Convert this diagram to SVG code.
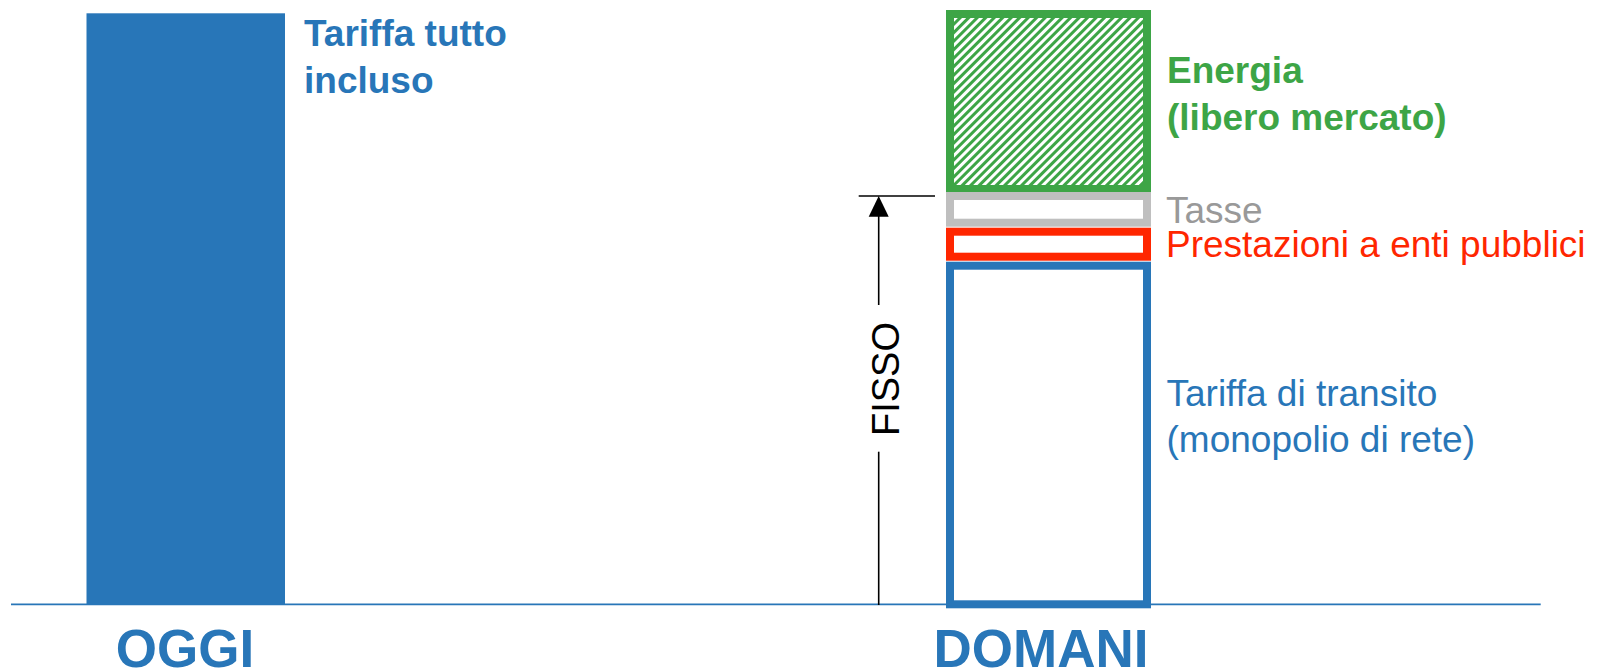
<svg xmlns="http://www.w3.org/2000/svg" width="1597" height="671" viewBox="0 0 1597 671">
  <style>
    text { font-family: "Liberation Sans", Arial, sans-serif; }
    .bold { font-weight: bold; }
    .blue { fill: #2876B8; }
    .green { fill: #3DA546; }
    .gray { fill: #999999; }
    .red { fill: #FF2600; }
    .lbl { font-size: 37px; }
    .big { font-size: 53px; font-weight: bold; }
    .box { fill: #FFFFFF; stroke-width: 8; }
    .dim { stroke: #000000; stroke-width: 1.6; fill: none; }
  </style>
  <defs>
    <pattern id="hatch" patternUnits="userSpaceOnUse" width="6" height="6" patternTransform="rotate(45)">
      <rect x="0" y="0" width="6" height="6" fill="#FFFFFF"/>
      <rect x="0" y="0" width="3" height="6" fill="#3DA546"/>
    </pattern>
  </defs>

  <rect width="1597" height="671" fill="#FFFFFF"/>

  <g id="oggi">
    <rect x="86.5" y="13.3" width="198.5" height="591" fill="#2876B8"/>
    <text class="lbl bold blue" x="304" y="46">Tariffa tutto</text>
    <text class="lbl bold blue" x="304" y="92.5">incluso</text>
    <text class="big blue" x="185" y="666.5" text-anchor="middle">OGGI</text>
  </g>

  <g id="energia">
    <rect x="950" y="14" width="197" height="175" fill="url(#hatch)" stroke="#3DA546" stroke-width="8"/>
    <text class="lbl bold green" x="1167" y="82.7">Energia</text>
    <text class="lbl bold green" x="1167" y="129.5">(libero mercato)</text>
  </g>

  <g id="tasse">
    <rect class="box" x="950" y="196" width="197" height="26.7" stroke="#BFBFBF"/>
    <text class="lbl gray" x="1166" y="223">Tasse</text>
  </g>

  <g id="prestazioni">
    <rect class="box" x="950" y="231.7" width="197" height="25" stroke="#FF2600"/>
    <text class="lbl red" x="1166" y="256.7">Prestazioni a enti pubblici</text>
  </g>

  <g id="transito">
    <rect class="box" x="950" y="265.7" width="197" height="338.6" stroke="#2876B8"/>
    <text class="lbl blue" x="1166.5" y="405.7">Tariffa di transito</text>
    <text class="lbl blue" x="1166.5" y="451.7">(monopolio di rete)</text>
  </g>

  <g id="domani">
    <text class="big blue" x="1041" y="666.5" text-anchor="middle">DOMANI</text>
  </g>

  <g id="connectors">
    <line x1="11" y1="604.3" x2="1540.7" y2="604.3" stroke="#2876B8" stroke-width="1.7"/>
    <line class="dim" x1="858.7" y1="196" x2="935" y2="196"/>
    <line class="dim" x1="878.7" y1="214" x2="878.7" y2="305"/>
    <line class="dim" x1="878.7" y1="451.7" x2="878.7" y2="605"/>
    <polygon points="878.7,196 868.7,216.7 888.7,216.7" fill="#000000"/>
    <text x="0" y="0" font-size="38" fill="#000000" text-anchor="middle" transform="translate(899,379) rotate(-90)">FISSO</text>
  </g>
</svg>
